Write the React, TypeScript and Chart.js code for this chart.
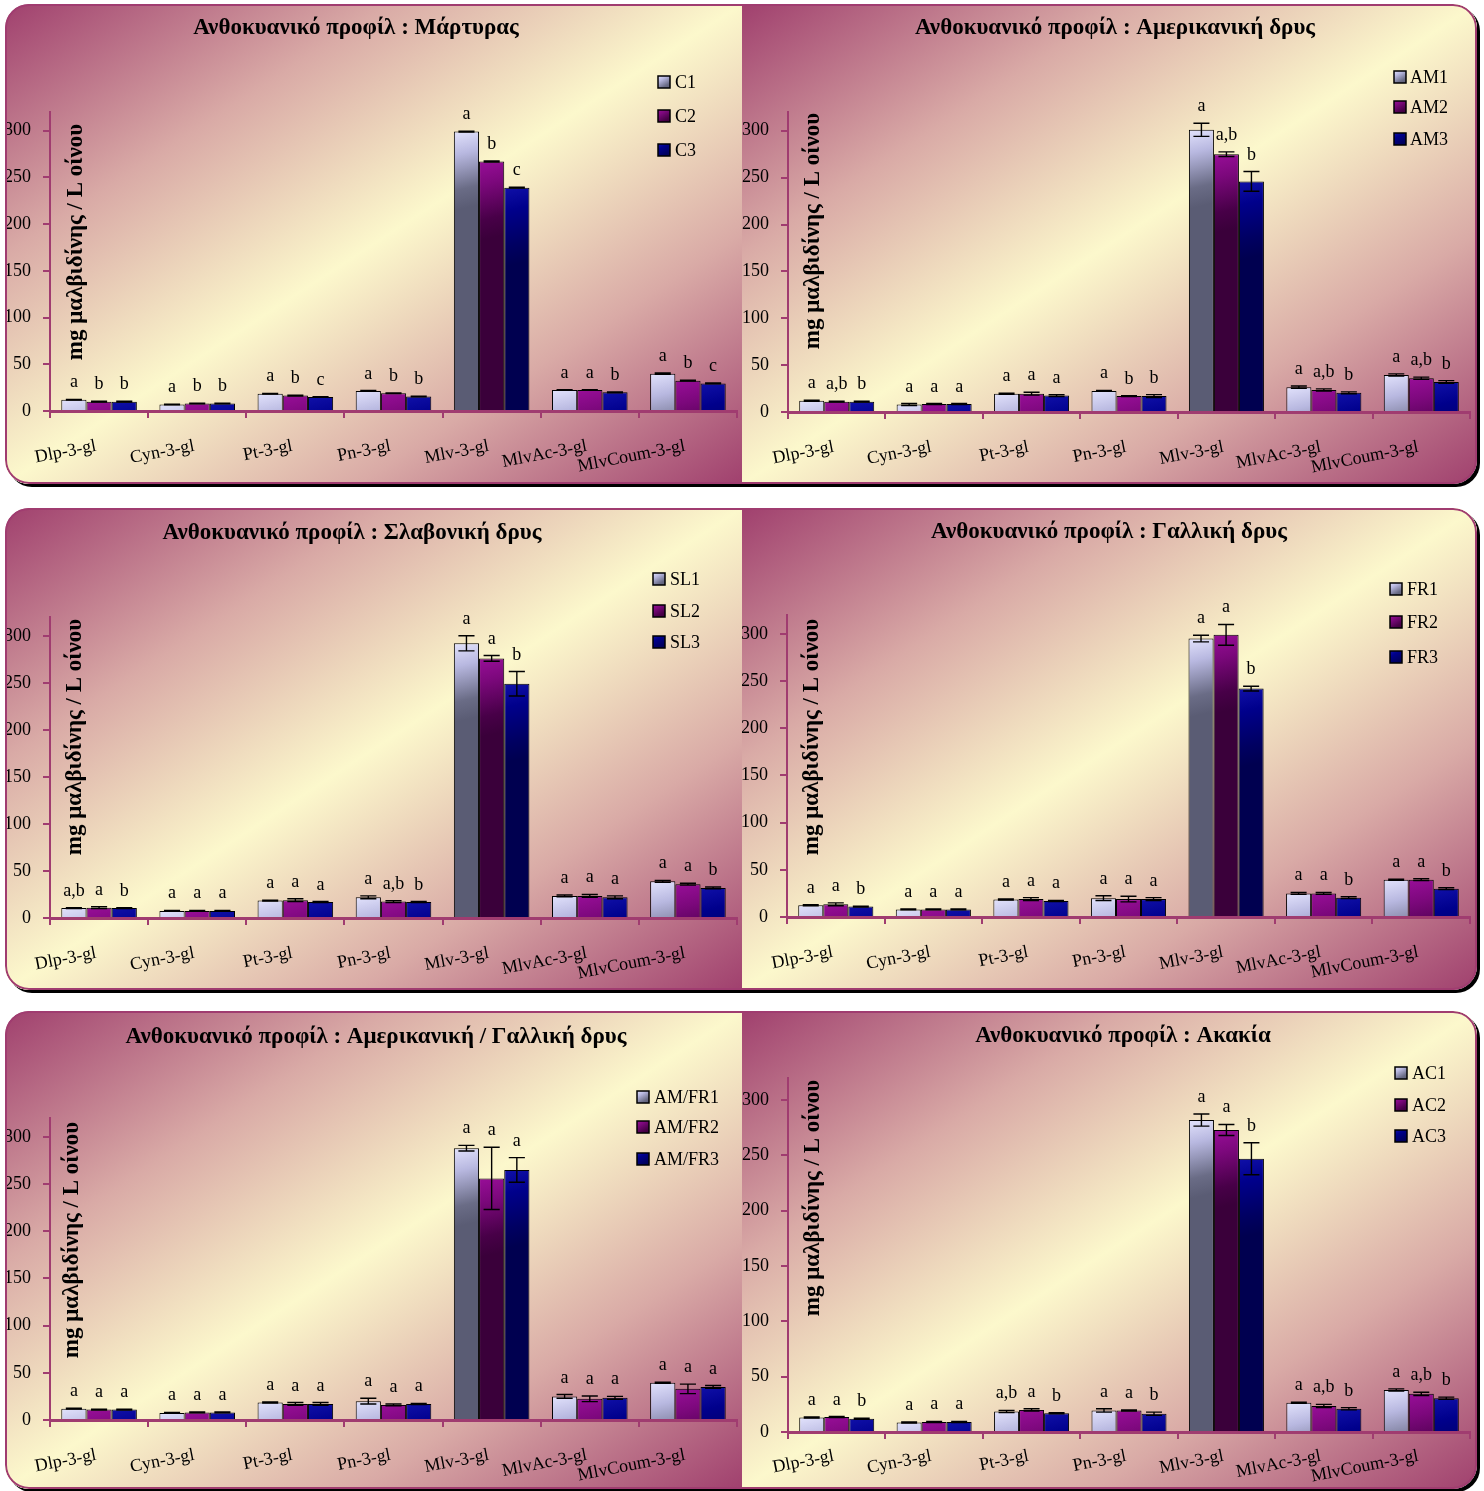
import React, { useEffect, useRef } from 'react';
import { Chart, registerables } from 'chart.js';
Chart.register(...registerables);

// ---------- data ----------
const categories = ['Dlp-3-gl', 'Cyn-3-gl', 'Pt-3-gl', 'Pn-3-gl', 'Mlv-3-gl', 'MlvAc-3-gl', 'MlvCoum-3-gl'];
const yAxisTitle = 'mg μαλβιδίνης / L οίνου';
const yTickStep = 50;
const yMax = 320;

// Panel 1 : Μάρτυρας
const ctrlTitle = 'Ανθοκυανικό προφίλ : Μάρτυρας';
const ctrlSeries = ['C1', 'C2', 'C3'];
const ctrlC1 = [12, 7, 18.5, 21.5, 299, 22.5, 40];
const ctrlC2 = [10, 8, 16.5, 19, 267, 22.5, 32.5];
const ctrlC3 = [10, 8, 15, 15.5, 239, 20, 29.5];
const ctrlErr1 = [0.4, 0.4, 0.4, 0.4, 0.5, 0.4, 0.6];
const ctrlErr2 = [0.4, 0.4, 0.4, 0.4, 0.5, 0.4, 0.5];
const ctrlErr3 = [0.4, 0.4, 0.4, 0.4, 0.5, 0.4, 0.5];
const ctrlLet1 = ['a', 'a', 'a', 'a', 'a', 'a', 'a'];
const ctrlLet2 = ['b', 'b', 'b', 'b', 'b', 'a', 'b'];
const ctrlLet3 = ['b', 'b', 'c', 'b', 'c', 'b', 'c'];

// Panel 2 : Αμερικανική δρυς
const amTitle = 'Ανθοκυανικό προφίλ : Αμερικανική δρυς';
const amSeries = ['AM1', 'AM2', 'AM3'];
const am1 = [12, 8, 19.5, 22.5, 301, 26.5, 39.5];
const am2 = [11, 8.5, 19.5, 17, 275, 23.5, 36];
const am3 = [11, 8.5, 17.5, 17, 246, 20.5, 32];
const amErr1 = [0.5, 1, 0.5, 0.5, 7, 1.2, 1.2];
const amErr2 = [0.5, 0.5, 1.5, 0.5, 2.5, 1.2, 1.2];
const amErr3 = [0.5, 0.5, 1, 1.5, 10.5, 1, 1.5];
const amLet1 = ['a', 'a', 'a', 'a', 'a', 'a', 'a'];
const amLet2 = ['a,b', 'a', 'a', 'b', 'a,b', 'a,b', 'a,b'];
const amLet3 = ['b', 'a', 'a', 'b', 'b', 'b', 'b'];

// Panel 3 : Σλαβονική δρυς
const slTitle = 'Ανθοκυανικό προφίλ : Σλαβονική δρυς';
const slSeries = ['SL1', 'SL2', 'SL3'];
const sl1 = [10.5, 7.5, 18.5, 22, 292, 23.5, 39];
const sl2 = [11, 7.5, 19, 17.5, 276, 23.5, 36];
const sl3 = [10.5, 7.5, 17, 17, 249, 22, 32];
const slErr1 = [0.5, 0.5, 0.5, 1.5, 8, 1, 1];
const slErr2 = [1, 0.5, 1.5, 1, 3, 1.5, 1];
const slErr3 = [0.5, 0.5, 0.5, 0.5, 13, 1.5, 1];
const slLet1 = ['a,b', 'a', 'a', 'a', 'a', 'a', 'a'];
const slLet2 = ['a', 'a', 'a', 'a,b', 'a', 'a', 'a'];
const slLet3 = ['b', 'a', 'a', 'b', 'b', 'a', 'b'];

// Panel 4 : Γαλλική δρυς
const frTitle = 'Ανθοκυανικό προφίλ : Γαλλική δρυς';
const frSeries = ['FR1', 'FR2', 'FR3'];
const fr1 = [12.5, 8, 18.5, 20, 295, 25, 39.5];
const fr2 = [13.5, 8, 19, 19, 299, 25, 39.5];
const fr3 = [11, 8, 17, 19, 242, 20.5, 30];
const frErr1 = [0.5, 0.5, 0.5, 2.5, 3.5, 1, 0.5];
const frErr2 = [1.5, 0.5, 1.5, 3, 11, 1, 1];
const frErr3 = [0.5, 0.5, 0.5, 1.5, 2.5, 1, 1];
const frLet1 = ['a', 'a', 'a', 'a', 'a', 'a', 'a'];
const frLet2 = ['a', 'a', 'a', 'a', 'a', 'a', 'a'];
const frLet3 = ['b', 'a', 'a', 'a', 'b', 'b', 'b'];

// Panel 5 : Αμερικανική / Γαλλική δρυς
const amfrTitle = 'Ανθοκυανικό προφίλ : Αμερικανική / Γαλλική δρυς';
const amfrSeries = ['AM/FR1', 'AM/FR2', 'AM/FR3'];
const amfr1 = [12, 7.5, 18.5, 20, 288, 25, 39.5];
const amfr2 = [11, 8, 17, 16, 256, 22.5, 33];
const amfr3 = [11, 8, 17, 17, 265, 23.5, 35];
const amfrErr1 = [0.5, 0.5, 0.5, 3, 3, 2, 0.5];
const amfrErr2 = [0.5, 0.5, 1.5, 1, 33, 3, 5];
const amfrErr3 = [0.5, 0.5, 1.5, 0.5, 13, 1.5, 1.5];
const amfrLet1 = ['a', 'a', 'a', 'a', 'a', 'a', 'a'];
const amfrLet2 = ['a', 'a', 'a', 'a', 'a', 'a', 'a'];
const amfrLet3 = ['a', 'a', 'a', 'a', 'a', 'a', 'a'];

// Panel 6 : Ακακία
const acTitle = 'Ανθοκυανικό προφίλ : Ακακία';
const acSeries = ['AC1', 'AC2', 'AC3'];
const ac1 = [13, 8.5, 18.5, 19.5, 282, 26.5, 38];
const ac2 = [13.5, 9, 20, 19.5, 273, 23.5, 34.5];
const ac3 = [12, 9, 17, 16.5, 247, 21, 30.5];
const acErr1 = [0.5, 0.5, 1, 1.5, 5.5, 0.5, 1];
const acErr2 = [0.5, 0.5, 1, 0.5, 5, 1.5, 1.5];
const acErr3 = [0.5, 0.5, 0.5, 1.5, 14.5, 1, 1];
const acLet1 = ['a', 'a', 'a,b', 'a', 'a', 'a', 'a'];
const acLet2 = ['a', 'a', 'a', 'a', 'a', 'a,b', 'a,b'];
const acLet3 = ['b', 'a', 'b', 'b', 'b', 'b', 'b'];

// ---------- styling ----------
const MAG = '#a03c70';
const SERIF = '"Liberation Serif", "Times New Roman", serif';
const CAT_PCT = 0.77;
const FILLS = [
  ['#e2e2fc', '#b8b8e0', '#6a6c86', '#5a5c74'],
  ['#980e98', '#7c087c', '#480048', '#3a003a'],
  ['#1010a8', '#00008c', '#000062', '#000050'],
];

function makeGrad(ctx: CanvasRenderingContext2D, x: number, y: number, w: number, len: number, si: number) {
  const g = ctx.createLinearGradient(x, y, x + w * 0.7, y + len);
  const s = FILLS[si];
  g.addColorStop(0, s[0]);
  g.addColorStop(0.3, s[1]);
  g.addColorStop(0.75, s[2]);
  g.addColorStop(1, s[3]);
  return g;
}

type Geo = {
  area: { l: number; r: number; t: number; b: number };
  legend: { box: number; text: number; ys: number[] };
  titleAt: [number, number];
  yTitleAt: [number, number];
  xLabelDy: number;
};
type PanelDef = {
  title: string;
  series: string[];
  values: number[][];
  errors: number[][];
  letters: string[][];
  geo: Geo;
};

const P1: PanelDef = {
  title: ctrlTitle, series: ctrlSeries,
  values: [ctrlC1, ctrlC2, ctrlC3], errors: [ctrlErr1, ctrlErr2, ctrlErr3], letters: [ctrlLet1, ctrlLet2, ctrlLet3],
  geo: { area: { l: 45, r: 732, t: 108, b: 407 }, legend: { box: 653, text: 670, ys: [78, 112, 146] }, titleAt: [351, 24], yTitleAt: [71, 238], xLabelDy: 35 },
};
const P2: PanelDef = {
  title: amTitle, series: amSeries,
  values: [am1, am2, am3], errors: [amErr1, amErr2, amErr3], letters: [amLet1, amLet2, amLet3],
  geo: { area: { l: 46, r: 728, t: 108, b: 408 }, legend: { box: 652, text: 668, ys: [73, 103, 135] }, titleAt: [373, 24], yTitleAt: [71, 227], xLabelDy: 35 },
};
const P3: PanelDef = {
  title: slTitle, series: slSeries,
  values: [sl1, sl2, sl3], errors: [slErr1, slErr2, slErr3], letters: [slLet1, slLet2, slLet3],
  geo: { area: { l: 45, r: 732, t: 109, b: 410 }, legend: { box: 648, text: 665, ys: [71, 103, 134] }, titleAt: [347, 25], yTitleAt: [70, 229], xLabelDy: 35 },
};
const P4: PanelDef = {
  title: frTitle, series: frSeries,
  values: [fr1, fr2, fr3], errors: [frErr1, frErr2, frErr3], letters: [frLet1, frLet2, frLet3],
  geo: { area: { l: 45, r: 728, t: 107, b: 409 }, legend: { box: 648, text: 665, ys: [81, 114, 149] }, titleAt: [367, 24], yTitleAt: [70, 229], xLabelDy: 35 },
};
const P5: PanelDef = {
  title: amfrTitle, series: amfrSeries,
  values: [amfr1, amfr2, amfr3], errors: [amfrErr1, amfrErr2, amfrErr3], letters: [amfrLet1, amfrLet2, amfrLet3],
  geo: { area: { l: 45, r: 732, t: 107, b: 409 }, legend: { box: 632, text: 649, ys: [86, 116, 148] }, titleAt: [371, 26], yTitleAt: [67, 229], xLabelDy: 35 },
};
const P6: PanelDef = {
  title: acTitle, series: acSeries,
  values: [ac1, ac2, ac3], errors: [acErr1, acErr2, acErr3], letters: [acLet1, acLet2, acLet3],
  geo: { area: { l: 46, r: 728, t: 67, b: 421 }, legend: { box: 653, text: 670, ys: [62, 94, 125] }, titleAt: [381, 25], yTitleAt: [71, 187], xLabelDy: 24 },
};

const ROWS = [
  { top: 4, h: 480, panels: [P1, P2] },
  { top: 508, h: 482, panels: [P3, P4] },
  { top: 1011, h: 478, panels: [P5, P6] },
];
const LEFT_W = 737;
const RIGHT_W = 735;

function decorPlugin(p: PanelDef) {
  return {
    id: 'decor',
    afterDraw(chart: any) {
      const { ctx, chartArea, scales } = chart;
      const xs = scales.x, ys = scales.y;
      ctx.save();
      // error bars + letters
      p.values.forEach((vals, si) => {
        const meta = chart.getDatasetMeta(si);
        meta.data.forEach((el: any, i: number) => {
          const v = vals[i];
          const e = p.errors[si][i];
          const cx = el.x;
          const hw = el.width * 0.32;
          const yt = ys.getPixelForValue(v + e);
          const yb = ys.getPixelForValue(v - e);
          ctx.strokeStyle = '#000';
          ctx.lineWidth = 1.4;
          ctx.beginPath();
          ctx.moveTo(cx, yt); ctx.lineTo(cx, yb);
          ctx.moveTo(cx - hw, yt); ctx.lineTo(cx + hw, yt);
          ctx.moveTo(cx - hw, yb); ctx.lineTo(cx + hw, yb);
          ctx.stroke();
          ctx.fillStyle = '#000';
          ctx.font = `18px ${SERIF}`;
          ctx.textAlign = 'center';
          ctx.textBaseline = 'alphabetic';
          ctx.fillText(p.letters[si][i], cx, yt - 12);
        });
      });
      // x labels
      ctx.font = `18px ${SERIF}`;
      ctx.fillStyle = '#000';
      categories.forEach((lab, i) => {
        const cx = xs.getPixelForValue(i);
        ctx.save();
        ctx.translate(cx - 3, chartArea.bottom + p.geo.xLabelDy);
        ctx.rotate((-11 * Math.PI) / 180);
        ctx.textAlign = 'right';
        ctx.textBaseline = 'middle';
        ctx.fillText(lab, 0, 0);
        ctx.restore();
      });
      // y title
      ctx.save();
      ctx.translate(p.geo.yTitleAt[0], p.geo.yTitleAt[1]);
      ctx.rotate(-Math.PI / 2);
      ctx.font = `bold 23px ${SERIF}`;
      ctx.textAlign = 'center';
      ctx.textBaseline = 'middle';
      ctx.fillText(yAxisTitle, 0, 0);
      ctx.restore();
      // panel title
      ctx.font = `bold 23px ${SERIF}`;
      ctx.textAlign = 'center';
      ctx.textBaseline = 'middle';
      ctx.fillText(p.title, p.geo.titleAt[0], p.geo.titleAt[1]);
      // legend
      p.series.forEach((name, si) => {
        const y = p.geo.legend.ys[si];
        const bx = p.geo.legend.box;
        ctx.fillStyle = makeGrad(ctx, bx, y - 6, 12, 14, si);
        ctx.fillRect(bx, y - 6, 12, 12);
        ctx.strokeStyle = '#000';
        ctx.lineWidth = 1.5;
        ctx.strokeRect(bx, y - 6, 12, 12);
        ctx.fillStyle = '#000';
        ctx.font = `18px ${SERIF}`;
        ctx.textAlign = 'left';
        ctx.textBaseline = 'middle';
        ctx.fillText(name, p.geo.legend.text, y + 1);
      });
      ctx.restore();
    },
  };
}

function barFill(si: number) {
  return (c: any) => {
    const chart = c.chart;
    const xs = chart.scales?.x;
    const ys = chart.scales?.y;
    if (!xs || !ys || c.type !== 'data' || xs.right === undefined) return FILLS[si][1];
    const n = categories.length;
    const cw = (xs.right - xs.left) / n;
    const bw = (cw * CAT_PCT) / 3;
    const cx = xs.getPixelForValue(c.dataIndex);
    const left = cx - 1.5 * bw + si * bw;
    const top = ys.getPixelForValue(c.raw);
    return makeGrad(chart.ctx, left, top, bw, 75, si);
  };
}

function PanelChart({ p, left, width, height }: { p: PanelDef; left: number; width: number; height: number }) {
  const ref = useRef<HTMLCanvasElement | null>(null);
  useEffect(() => {
    if (!ref.current) return;
    const a = p.geo.area;
    const chart = new Chart(ref.current, {
      type: 'bar',
      data: {
        labels: categories,
        datasets: p.values.map((vals, si) => ({
          label: p.series[si],
          data: vals,
          backgroundColor: barFill(si),
          borderColor: '#000',
          borderWidth: 1,
          barPercentage: 1,
          categoryPercentage: CAT_PCT,
        })),
      },
      options: {
        responsive: false,
        animation: false,
        devicePixelRatio: 1,
        layout: { padding: { left: 0, top: a.t, right: width - a.r, bottom: 0 } },
        plugins: { legend: { display: false }, title: { display: false }, tooltip: { enabled: false } },
        scales: {
          x: {
            offset: true,
            grid: { display: true, drawOnChartArea: false, drawTicks: true, tickLength: 7, color: MAG, lineWidth: 2, offset: true },
            border: { display: true, color: MAG, width: 3 },
            ticks: { display: false },
            afterFit: (s: any) => { s.height = height - a.b; },
          },
          y: {
            min: 0,
            max: yMax,
            grid: { display: true, drawOnChartArea: false, drawTicks: true, tickLength: 7, color: MAG, lineWidth: 2 },
            border: { display: true, color: MAG, width: 2 },
            ticks: { stepSize: yTickStep, includeBounds: false, color: '#000', padding: 12, font: { family: SERIF, size: 18 } },
            afterFit: (s: any) => { s.width = a.l; },
          },
        },
      } as any,
      plugins: [decorPlugin(p)],
    });
    return () => chart.destroy();
  }, [p, width, height]);
  return (
    <canvas
      ref={ref}
      width={width}
      height={height}
      style={{ position: 'absolute', left, top: 0, width, height }}
    />
  );
}

const BG = 'linear-gradient(to bottom right, #a0406e 0%, #d9aaa6 26%, #fcf8cc 50%, #d9aaa6 74%, #a0406e 100%)';

export default function App() {
  return (
    <div style={{ position: 'absolute', left: 0, top: 0, width: 1484, height: 1491, background: '#fff', overflow: 'hidden' }}>
      {ROWS.map((row, ri) => (
        <div
          key={ri}
          style={{
            position: 'absolute', left: 5, top: row.top, width: LEFT_W + RIGHT_W, height: row.h,
            borderRadius: 24, overflow: 'hidden', boxShadow: '3px 3px 0 #000',
          }}
        >
          <div style={{ position: 'absolute', left: 0, top: 0, width: LEFT_W, height: row.h, background: BG }} />
          <div style={{ position: 'absolute', left: LEFT_W, top: 0, width: RIGHT_W, height: row.h, background: BG }} />
          <PanelChart p={row.panels[0]} left={0} width={LEFT_W} height={row.h} />
          <PanelChart p={row.panels[1]} left={LEFT_W} width={RIGHT_W} height={row.h} />
          <div
            style={{
              position: 'absolute', left: 0, top: 0, width: LEFT_W + RIGHT_W, height: row.h,
              border: `2px solid ${MAG}`, borderRadius: 24, boxSizing: 'border-box', pointerEvents: 'none',
            }}
          />
        </div>
      ))}
    </div>
  );
}
